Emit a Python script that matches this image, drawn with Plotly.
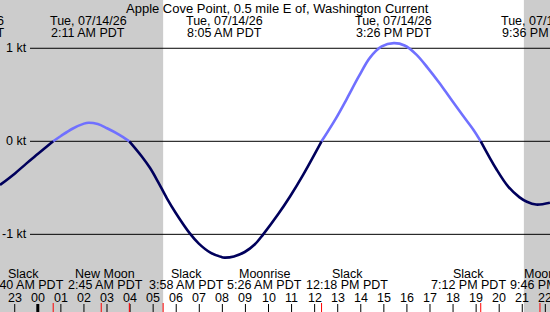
import plotly.graph_objects as go

# ---------------- data (hours relative to midnight Tue 07/14/26, PDT) ----------------
hours = [-1.64, -0.99, -0.5, 0.01, 0.667,
         1.0, 1.5, 2.0, 2.2, 2.6, 3.0, 3.5, 3.967,
         4.5, 4.86, 5.2, 5.59, 5.98, 6.59, 6.98, 7.5, 7.97, 8.083, 8.5, 8.97, 9.4, 9.77,
         10.4, 10.94, 11.5, 12.3,
         12.93, 13.4, 13.92, 14.4, 14.91, 15.433, 15.9, 16.4, 16.9, 17.4, 17.89,
         18.4, 18.88, 19.2,
         19.88, 20.4, 20.87, 21.2, 21.6, 22.2]
knots = [-0.47, -0.345, -0.24, -0.135, 0.0,
         0.057, 0.135, 0.19, 0.20, 0.185, 0.14, 0.075, 0.0,
         -0.16, -0.285, -0.43, -0.61, -0.77, -0.99, -1.1, -1.2, -1.245, -1.25, -1.238, -1.19, -1.11, -1.0,
         -0.79, -0.59, -0.36, 0.0,
         0.25, 0.46, 0.70, 0.90, 1.02, 1.055, 1.03, 0.935, 0.79, 0.63, 0.46,
         0.285, 0.125, 0.0,
         -0.30, -0.49, -0.60, -0.65, -0.68, -0.66]

title = "Apple Cove Point, 0.5 mile E of, Washington Current"

# top labels: max / min current events
top_hours = [-1.378, 2.183, 8.083, 15.433, 21.75]
top_dates = ["Mon, 07/13/26", "Tue, 07/14/26", "Tue, 07/14/26", "Tue, 07/14/26", "Tue, 07/14/26"]
top_times = ["8:49 PM PDT", "2:11 AM PDT", "8:05 AM PDT", "3:26 PM PDT", "9:36 PM PDT"]

# bottom labels (label positions in hours), and event times for red ticks
bot_label_hours = [-0.64, 2.913, 6.467, 9.848, 13.424, 18.69, 22.11]
bot_names = ["Slack", "New Moon", "Slack", "Moonrise", "Slack", "Slack", "Moonset"]
bot_times = ["12:40 AM PDT", "2:45 AM PDT", "3:58 AM PDT", "5:26 AM PDT",
             "12:18 PM PDT", "7:12 PM PDT", "9:46 PM PDT"]
event_hours = [0.667, 2.75, 3.967, 5.433, 12.3, 19.2, 21.767]

hour_ticks = list(range(-1, 23))
hour_labels = ["%02d" % (h % 24) for h in hour_ticks]

night = [(-1.64, 5.433), (21.07, 22.25)]
kt_levels = [1, 0, -1]
kt_labels = ["1 kt", "0 kt", "-1 kt"]

# ---------------- layout constants ----------------
W, H = 550, 312
XMIN, XMAX = -1.6385, 22.202
YMIN, YMAX = -1.835, 1.519
FONT = "Liberation Sans, Arial, sans-serif"
FS = 12.5
DARK = "#00005c"
LIGHT = "#7070ff"


def py(p):
    """pixel row -> paper y"""
    return 1 - p / H


fig = go.Figure()

# split curve into flood (>=0) and ebb (<=0) segments
segs = []
cur_x, cur_y = [hours[0]], [knots[0]]
cur_sign = knots[0] >= 0 if knots[0] != 0 else knots[1] >= 0
for i in range(1, len(hours)):
    cur_x.append(hours[i]); cur_y.append(knots[i])
    if knots[i] == 0 and i < len(hours) - 1:
        segs.append((cur_sign, cur_x, cur_y))
        cur_x, cur_y = [hours[i]], [knots[i]]
        cur_sign = knots[i + 1] >= 0
segs.append((cur_sign, cur_x, cur_y))

for pos, xs, ys in segs:
    fig.add_trace(go.Scatter(x=xs, y=ys, mode="lines",
                             line=dict(color=LIGHT if pos else DARK, width=2.6,
                                       shape="spline", smoothing=1.0),
                             hoverinfo="skip", showlegend=False))

shapes = []
for a, b in night:
    shapes.append(dict(type="rect", xref="x", yref="paper", x0=a, x1=b, y0=0, y1=1,
                       fillcolor="#cccccc", line=dict(width=0), layer="below"))
for k in kt_levels:
    shapes.append(dict(type="line", xref="paper", yref="y", x0=30 / W, x1=1, y0=k, y1=k,
                       line=dict(color="black", width=1), layer="below"))
for h in hour_ticks:
    shapes.append(dict(type="line", xref="x", yref="paper", x0=h, x1=h, y0=0, y1=8 / H,
                       line=dict(color="black", width=3 if h % 24 == 0 else 1)))
for h in event_hours:
    shapes.append(dict(type="line", xref="x", yref="paper", x0=h, x1=h, y0=0, y1=9 / H,
                       line=dict(color="red", width=1)))

ann = []
font = dict(family=FONT, size=FS, color="black")
ann.append(dict(text=title, xref="paper", yref="paper", x=277.5 / W, y=py(8),
                xanchor="center", yanchor="middle", showarrow=False,
                font=dict(family=FONT, size=13, color="black")))
for i, (h, d, t) in enumerate(zip(top_hours, top_dates, top_times)):
    xa = "right" if i == 0 else "center"
    ann.append(dict(text=d, xref="x", yref="paper", x=h, y=py(21), xanchor=xa,
                    yanchor="middle", showarrow=False, font=font))
    ann.append(dict(text=t, xref="x", yref="paper", x=h, y=py(33), xanchor=xa,
                    yanchor="middle", showarrow=False, font=font))
for h, n, t in zip(bot_label_hours, bot_names, bot_times):
    ann.append(dict(text=n, xref="x", yref="paper", x=h, y=py(274), xanchor="center",
                    yanchor="middle", showarrow=False, font=font))
    ann.append(dict(text=t, xref="x", yref="paper", x=h, y=py(285), xanchor="center",
                    yanchor="middle", showarrow=False, font=font))
for h, lab in zip(hour_ticks, hour_labels):
    ann.append(dict(text=lab, xref="x", yref="paper", x=h, y=py(298), xanchor="center",
                    yanchor="middle", showarrow=False, font=font))
for k, lab in zip(kt_levels, kt_labels):
    ann.append(dict(text=lab, xref="paper", yref="y", x=28.5 / W, y=k, xanchor="right",
                    yanchor="middle", showarrow=False, font=font))

fig.update_layout(
    width=W, height=H, margin=dict(l=0, r=0, t=0, b=0),
    paper_bgcolor="white", plot_bgcolor="white",
    xaxis=dict(range=[XMIN, XMAX], visible=False, fixedrange=True),
    yaxis=dict(range=[YMIN, YMAX], visible=False, fixedrange=True),
    shapes=shapes, annotations=ann, showlegend=False,
)

fig.write_html("out.html", config={"displayModeBar": False})
